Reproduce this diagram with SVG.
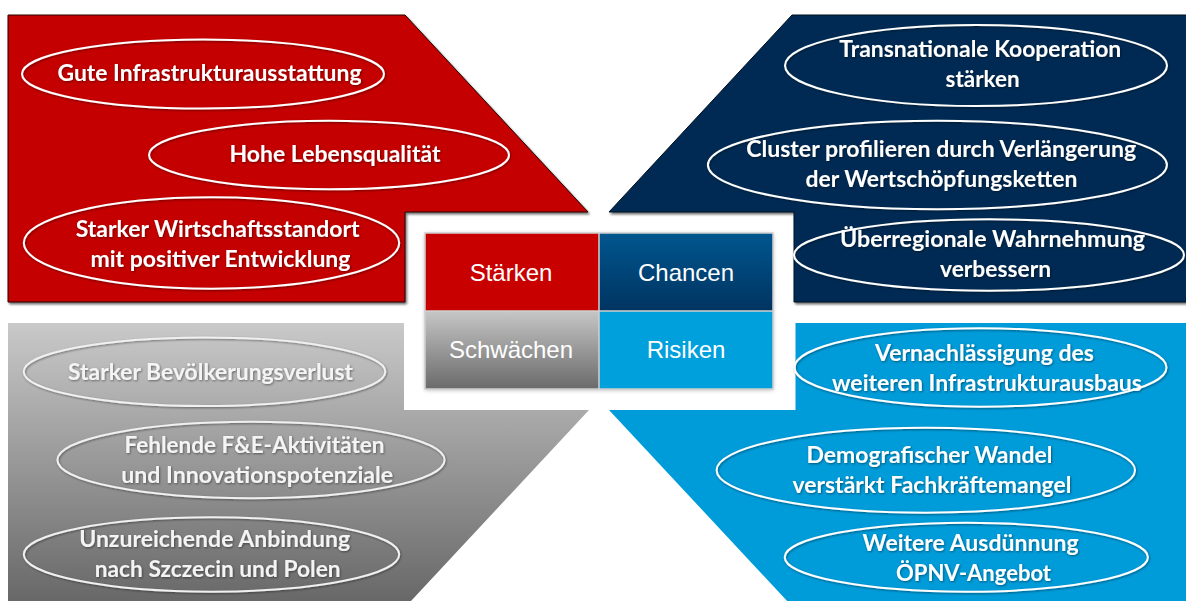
<svg xmlns="http://www.w3.org/2000/svg" width="1186" height="601" viewBox="0 0 1186 601">
  <defs>
    <linearGradient id="gradGray" x1="0" y1="0" x2="0" y2="1">
      <stop offset="0" stop-color="#c9c9c9"/>
      <stop offset="1" stop-color="#686868"/>
    </linearGradient>
    <linearGradient id="gradGrayCell" x1="0" y1="0" x2="0" y2="1">
      <stop offset="0" stop-color="#c6c6c6"/>
      <stop offset="1" stop-color="#6a6a6a"/>
    </linearGradient>
    <linearGradient id="gradNavyCell" x1="0" y1="0" x2="0" y2="1">
      <stop offset="0" stop-color="#00568f"/>
      <stop offset="1" stop-color="#003461"/>
    </linearGradient>
    <filter id="shapeShadow" x="-5%" y="-5%" width="110%" height="115%">
      <feDropShadow dx="1.5" dy="2" stdDeviation="1.2" flood-color="#000" flood-opacity="0.55"/>
    </filter>
    <filter id="softShadow" x="-5%" y="-5%" width="110%" height="115%">
      <feDropShadow dx="0" dy="1" stdDeviation="2" flood-color="#000" flood-opacity="0.3"/>
    </filter>
    <filter id="textShadow" x="-5%" y="-20%" width="110%" height="140%">
      <feDropShadow dx="0.8" dy="1" stdDeviation="0.8" flood-color="#000" flood-opacity="0.45"/>
    </filter>
  </defs>
  <style>
    .oval { fill: none; stroke: #ffffff; stroke-width: 2; }
    .oval-gray { fill: none; stroke: #f0f0f0; stroke-width: 2; }
    .lbl { font-family: Lato, "Liberation Sans", sans-serif; font-weight: bold; font-size: 22px; fill: #ffffff; text-anchor: middle; }
    .lbl-gray { fill: #f4f4f4; }
    .cell-txt { font-family: "Liberation Sans", Arial, sans-serif; font-size: 24px; fill: #ffffff; text-anchor: middle; }
    .cell-line { stroke: #d0d0d0; stroke-width: 1.5; fill: none; }
  </style>

  <rect width="1186" height="601" fill="#ffffff"/>

  <!-- Stärken panel (top left) -->
  <g id="staerken">
    <polygon points="8,15 405,15 588,212 405,212 405,302 8,302" fill="#c40000" stroke="#2a0000" stroke-width="1" filter="url(#shapeShadow)"/>
    <g filter="url(#textShadow)">
      <ellipse class="oval" cx="203" cy="74" rx="181" ry="34.5"/>
      <text class="lbl" x="209.5" y="81" textLength="304" lengthAdjust="spacingAndGlyphs">Gute Infrastrukturausstattung</text>
      <ellipse class="oval" cx="329" cy="155" rx="180" ry="34.3"/>
      <text class="lbl" x="335" y="162.3" textLength="211" lengthAdjust="spacingAndGlyphs">Hohe Lebensqualität</text>
      <ellipse class="oval" cx="211.5" cy="243" rx="187.7" ry="45.7"/>
      <text class="lbl" x="217.7" y="236.7" textLength="284" lengthAdjust="spacingAndGlyphs">Starker Wirtschaftsstandort</text>
      <text class="lbl" x="220.5" y="266.7" textLength="260" lengthAdjust="spacingAndGlyphs">mit positiver Entwicklung</text>
    </g>
  </g>

  <!-- Chancen panel (top right) -->
  <g id="chancen">
    <polygon points="792,15 1188,15 1188,302 794,302 794,212 609,212" fill="#032c52" stroke="#00101f" stroke-width="1" filter="url(#shapeShadow)"/>
    <g filter="url(#textShadow)">
      <ellipse class="oval" cx="976" cy="65.5" rx="191" ry="40.5"/>
      <text class="lbl" x="980.3" y="57.3" textLength="282" lengthAdjust="spacingAndGlyphs">Transnationale Kooperation</text>
      <text class="lbl" x="982.6" y="87.3" textLength="74" lengthAdjust="spacingAndGlyphs">stärken</text>
      <ellipse class="oval" cx="937.4" cy="165" rx="229.5" ry="44.3"/>
      <text class="lbl" x="941.2" y="156.7" textLength="390" lengthAdjust="spacingAndGlyphs">Cluster profilieren durch Verlängerung</text>
      <text class="lbl" x="941.4" y="186.7" textLength="272" lengthAdjust="spacingAndGlyphs">der Wertschöpfungsketten</text>
      <ellipse class="oval" cx="989" cy="255" rx="195" ry="35.7"/>
      <text class="lbl" x="992.5" y="247.3" textLength="305" lengthAdjust="spacingAndGlyphs">Überregionale Wahrnehmung</text>
      <text class="lbl" x="995.5" y="277.3" textLength="111" lengthAdjust="spacingAndGlyphs">verbessern</text>
    </g>
  </g>

  <!-- Schwächen panel (bottom left) -->
  <g id="schwaechen">
    <polygon points="8,323 404,323 404,410 589,410 411,601 8,601" fill="url(#gradGray)"/>
    <g filter="url(#textShadow)">
      <ellipse class="oval-gray" cx="204.5" cy="371.7" rx="180.8" ry="34.3"/>
      <text class="lbl lbl-gray" x="210.5" y="380" textLength="285" lengthAdjust="spacingAndGlyphs">Starker Bevölkerungsverlust</text>
      <ellipse class="oval-gray" cx="251" cy="460" rx="193.6" ry="38.3"/>
      <text class="lbl lbl-gray" x="254.5" y="452.7" textLength="260" lengthAdjust="spacingAndGlyphs">Fehlende F&amp;E-Aktivitäten</text>
      <text class="lbl lbl-gray" x="257.2" y="482.7" textLength="272" lengthAdjust="spacingAndGlyphs">und Innovationspotenziale</text>
      <ellipse class="oval-gray" cx="211.5" cy="554.5" rx="187.7" ry="37.2"/>
      <text class="lbl lbl-gray" x="214.7" y="547.3" textLength="271" lengthAdjust="spacingAndGlyphs">Unzureichende Anbindung</text>
      <text class="lbl lbl-gray" x="217.7" y="576.7" textLength="246" lengthAdjust="spacingAndGlyphs">nach Szczecin und Polen</text>
    </g>
  </g>

  <!-- Risiken panel (bottom right) -->
  <g id="risiken">
    <polygon points="795.5,323 1188,323 1188,603 789,603 609,410 795.5,410" fill="#009bd9"/>
    <g filter="url(#textShadow)">
      <ellipse class="oval" cx="980.5" cy="367.5" rx="186" ry="39.2"/>
      <text class="lbl" x="984.5" y="361" textLength="219" lengthAdjust="spacingAndGlyphs">Vernachlässigung des</text>
      <text class="lbl" x="987" y="390.7" textLength="310" lengthAdjust="spacingAndGlyphs">weiteren Infrastrukturausbaus</text>
      <ellipse class="oval" cx="925.8" cy="470.2" rx="209.2" ry="42.5"/>
      <text class="lbl" x="929.5" y="463.3" textLength="246" lengthAdjust="spacingAndGlyphs">Demografischer Wandel</text>
      <text class="lbl" x="932" y="493.3" textLength="279" lengthAdjust="spacingAndGlyphs">verstärkt Fachkräftemangel</text>
      <ellipse class="oval" cx="966.3" cy="557.2" rx="181.6" ry="34.5"/>
      <text class="lbl" x="970.6" y="550.7" textLength="216" lengthAdjust="spacingAndGlyphs">Weitere Ausdünnung</text>
      <text class="lbl" x="973.5" y="580.7" textLength="155" lengthAdjust="spacingAndGlyphs">ÖPNV-Angebot</text>
    </g>
  </g>

  <!-- SWOT key in the middle -->
  <g id="swot-key">
    <rect x="425" y="233" width="348" height="156" fill="#ffffff" filter="url(#softShadow)"/>
    <rect x="425" y="233" width="174" height="78" fill="#c90000"/>
    <rect x="599" y="233" width="174" height="78" fill="url(#gradNavyCell)"/>
    <rect x="425" y="311" width="174" height="78" fill="url(#gradGrayCell)"/>
    <rect x="599" y="311" width="174" height="78" fill="#00a0dc"/>
    <rect class="cell-line" x="425" y="233" width="348" height="156"/>
    <line class="cell-line" x1="599" y1="233" x2="599" y2="389"/>
    <line class="cell-line" x1="425" y1="311" x2="773" y2="311"/>
    <text class="cell-txt" x="511" y="280.5">Stärken</text>
    <text class="cell-txt" x="686" y="280.5">Chancen</text>
    <text class="cell-txt" x="511" y="357.5" fill="#f2f2f2">Schwächen</text>
    <text class="cell-txt" x="686" y="357.5">Risiken</text>
  </g>
</svg>
